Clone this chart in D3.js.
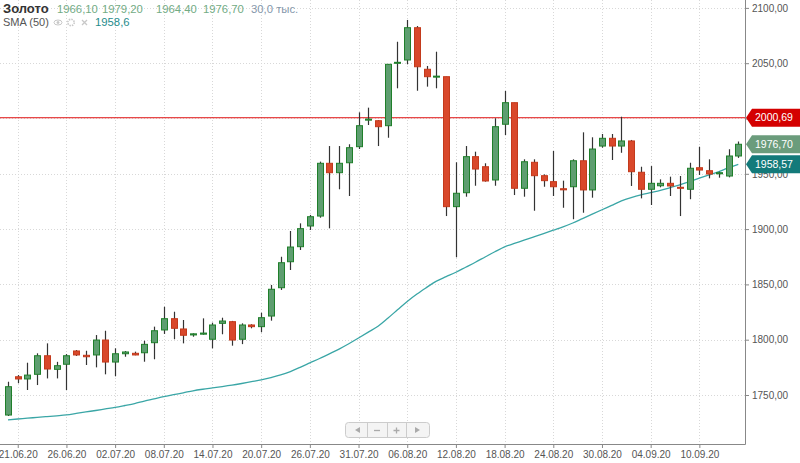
<!DOCTYPE html>
<html>
<head>
<meta charset="utf-8">
<script src="https://cdn.jsdelivr.net/npm/d3@7"></script>
<style>
  body { margin: 0; background: #fff; font-family: "Liberation Sans", Arial, sans-serif; }
  svg { display: block; }
  .axis path { display: none; }
  .axis line { stroke: #888; }
  .axis text { fill: #555; font-size: 10px; font-family: "Liberation Sans", Arial, sans-serif; }
</style>
</head>
<body>
<svg width="800" height="463"></svg>
<script>
(function() {

  // daily bars, 19.06.20 .. 15.09.20 (sunday bars included)
  var openVals = [1731.9, 1766.5, 1764.5, 1768.7, 1785.5, 1773.2, 1777.8, 1789.8, 1785.9, 1786.2,
    1799.7, 1779.8, 1787.3, 1787.7, 1788.2, 1797.3, 1808.8, 1819, 1809.7, 1804.3,
    1805, 1800.4, 1814.8, 1816.3, 1800.4, 1813.3, 1811.8, 1821.4, 1847, 1870.5,
    1884.1, 1902.8, 1911.8, 1959.5, 1951, 1960, 1974.5, 1998.5, 1998, 1993.5,
    2049.9, 2052.9, 2082.1, 2044.5, 2037.5, 2037.8, 1920.3, 1932.9, 1965.5, 1956.4,
    1944.4, 1994.8, 2014.3, 1936.9, 1960.4, 1948.3, 1942.9, 1936.5, 1938.3, 1961.8,
    1935.4, 1975.1, 1982.1, 1975.1, 1979.7, 1951.4, 1936, 1939.2, 1941.4, 1937.8,
    1936, 1955.5, 1952.8, 1950, 1948, 1966.1];
  var highVals = [1762, 1768, 1779.2, 1787.7, 1796.7, 1780, 1787, 1790.7, 1790, 1804.2,
    1808.1, 1792.2, 1789.8, 1789.2, 1799.1, 1811.8, 1829.8, 1825.3, 1817.8, 1805.8,
    1819.3, 1815.4, 1819.9, 1817, 1814.8, 1814, 1824.4, 1849.5, 1875, 1898.3,
    1905.2, 1912.8, 1961, 1975.1, 1975.1, 1976.7, 2005.6, 2009.8, 1998.6, 2049.3,
    2069.4, 2089.1, 2083.6, 2047.5, 2060.4, 2037.8, 1960.4, 1975.1, 1970, 1959.5,
    2000.2, 2024.9, 2014.3, 1963.1, 1963.1, 1949.5, 1970.6, 1943.8, 1963.1, 1987.5,
    1983, 1986, 1986, 2001.6, 1980.6, 1956.4, 1957, 1945, 1947.4, 1948,
    1960, 1974.5, 1963.1, 1951.9, 1972.2, 1979.2];
  var lowVals = [1731, 1760.6, 1754.5, 1759, 1765, 1765, 1754.5, 1785.3, 1777.1, 1775,
    1768.7, 1766.9, 1784.6, 1785.9, 1780.1, 1782.3, 1805.2, 1800.4, 1796.7, 1802.7,
    1804.5, 1792.2, 1804.9, 1794.6, 1796, 1810.3, 1806.7, 1817.2, 1845, 1863,
    1881.1, 1899.2, 1910.3, 1900.7, 1936, 1929.9, 1972.4, 1994.1, 1975.1, 1982.6,
    2027.3, 2049, 2025.1, 2028.8, 2027.3, 1911.8, 1874.5, 1929.3, 1939.2, 1942.9,
    1939.2, 1985.1, 1930.8, 1929.3, 1916.6, 1938.3, 1929.9, 1919.3, 1908.9, 1914.8,
    1928.4, 1973.6, 1962.5, 1969, 1939, 1927.8, 1921.8, 1937.8, 1929.9, 1911.8,
    1927, 1948.9, 1945.9, 1946.5, 1946.8, 1964.4];
  var closeVals = [1757.5, 1764.5, 1768, 1785.5, 1773.5, 1776.5, 1785.5, 1786.2, 1784.6, 1799.7,
    1779.8, 1787.3, 1788.9, 1786.2, 1795.8, 1808.1, 1819, 1810.3, 1804, 1805.3,
    1806, 1813.3, 1816.9, 1799.7, 1813.3, 1811.8, 1819.9, 1845.6, 1869.6, 1883.8,
    1900.4, 1911.2, 1959.5, 1951, 1959.5, 1973.6, 1993.5, 1999.5, 1992.6, 2049,
    2050.8, 2082.1, 2046.8, 2037.8, 2038.3, 1920.3, 1932.4, 1965.5, 1954.3, 1943.5,
    1992.6, 2014.3, 1936.9, 1960.9, 1948.3, 1943.8, 1938.3, 1935.5, 1961.8, 1935.4,
    1972.4, 1982.1, 1975.1, 1979.7, 1951.9, 1936, 1941.4, 1941.4, 1939, 1936.9,
    1955, 1953.4, 1949.8, 1951, 1966.1, 1976.7];
  var smaVals = [1727.5, 1728.3, 1729, 1729.8, 1730.5, 1731.2, 1732, 1733.3, 1734.7, 1736,
    1737.4, 1738.8, 1740.5, 1742.3, 1744.5, 1746.5, 1748.5, 1750.3, 1752, 1753.8,
    1755.2, 1756.4, 1757.6, 1758.9, 1760.4, 1762, 1763.6, 1765.7, 1768.1, 1771.2,
    1775, 1779, 1783, 1787.2, 1791.5, 1796.3, 1801.5, 1806.8, 1812.2, 1819.4,
    1827, 1834.6, 1841.3, 1847.3, 1853, 1857, 1861, 1865.5, 1870, 1874.8,
    1879.5, 1884, 1887, 1890, 1893, 1896, 1899, 1902, 1905.5, 1909.5,
    1913.5, 1917.5, 1921.5, 1925.5, 1928.5, 1931, 1933, 1935, 1937.5, 1940,
    1943, 1946, 1949, 1952, 1955.5, 1958.6];

  var dateTickIdx = [1, 6, 11, 16, 21, 26, 31, 36, 41, 46, 51, 56, 61, 66, 71];
  var dateLabels = ["21.06.20", "26.06.20", "02.07.20", "08.07.20", "14.07.20", "20.07.20", "26.07.20",
    "31.07.20", "06.08.20", "12.08.20", "18.08.20", "24.08.20", "30.08.20", "04.09.20", "10.09.20"];
  var priceTicks = [1750, 1800, 1850, 1900, 1950, 2000, 2050, 2100];

  var levelLine = 2000.69;
  var lastClose = 1976.70;
  var lastSma = 1958.57;

  var svg = d3.select('svg');
  var right = 745, bottom = 444;

  var x = d3.scaleLinear().domain([0, 75]).range([8, 738.3]);
  var y = d3.scaleLinear().domain([1750, 2100]).range([395, 7.9]);

  var fmt = function(v) { return d3.format('.2f')(v).replace('.', ','); };

  // grid
  svg.append('g').selectAll('line').data(priceTicks).enter().append('line')
    .attr('x1', 0).attr('x2', right)
    .attr('y1', function(d) { return Math.round(y(d)) + 0.5; })
    .attr('y2', function(d) { return Math.round(y(d)) + 0.5; })
    .attr('stroke', '#d8d8d8').attr('stroke-dasharray', '1,2');
  svg.append('g').selectAll('line').data(dateTickIdx).enter().append('line')
    .attr('x1', function(d) { return Math.round(x(d)) + 0.5; })
    .attr('x2', function(d) { return Math.round(x(d)) + 0.5; })
    .attr('y1', 0).attr('y2', bottom)
    .attr('stroke', '#d8d8d8').attr('stroke-dasharray', '1,2');

  // axes (the 2000 label sits under the level tag, so it is left out)
  var yAxis = d3.axisRight(y).tickValues(priceTicks).tickSize(4).tickPadding(3)
    .tickFormat(function(d) { return d === 2000 ? '' : fmt(d); });
  svg.append('g').attr('class', 'axis').attr('transform', 'translate(' + right + ',0)').call(yAxis);

  var xAxis = d3.axisBottom(x).tickValues(dateTickIdx).tickSize(4).tickPadding(3)
    .tickFormat(function(d, i) { return dateLabels[i]; });
  svg.append('g').attr('class', 'axis').attr('transform', 'translate(0,' + bottom + ')').call(xAxis);

  svg.append('line').attr('x1', right + 0.5).attr('x2', right + 0.5).attr('y1', 0).attr('y2', bottom + 0.5)
    .attr('stroke', '#888');
  svg.append('line').attr('x1', 0).attr('x2', right + 0.5).attr('y1', bottom + 0.5).attr('y2', bottom + 0.5)
    .attr('stroke', '#888');

  // level line
  svg.append('line').attr('x1', 0).attr('x2', right)
    .attr('y1', y(levelLine)).attr('y2', y(levelLine))
    .attr('stroke', '#e01010').attr('stroke-width', 1);

  // sma line
  var smaLine = d3.line()
    .x(function(d, i) { return x(i); })
    .y(function(d) { return y(d); })
    .curve(d3.curveMonotoneX);
  svg.append('path').datum(smaVals)
    .attr('d', smaLine)
    .attr('fill', 'none')
    .attr('stroke', '#3aa6a6')
    .attr('stroke-width', 1.3);

  // candles
  var candles = closeVals.map(function(c, i) {
    return {i: i, o: openVals[i], h: highVals[i], l: lowVals[i], c: c};
  });

  var g = svg.append('g').selectAll('g').data(candles).enter().append('g');

  g.append('line')
    .attr('x1', function(d) { return Math.round(x(d.i)) + 0.5; })
    .attr('x2', function(d) { return Math.round(x(d.i)) + 0.5; })
    .attr('y1', function(d) { return y(d.h); })
    .attr('y2', function(d) { return y(d.l); })
    .attr('stroke', '#333')
    .attr('stroke-width', 1.2);

  g.append('rect')
    .attr('x', function(d) { return Math.round(x(d.i)) - 2.5; })
    .attr('width', 6)
    .attr('y', function(d) { return y(Math.max(d.o, d.c)); })
    .attr('height', function(d) { return Math.max(1, Math.abs(y(d.o) - y(d.c))); })
    .attr('fill', function(d) { return d.c >= d.o ? '#5e9e70' : '#d9482b'; })
    .attr('stroke', function(d) { return d.c >= d.o ? '#1f7f2a' : '#c33a1c'; })
    .attr('stroke-width', 1);

  // price tags on the right
  var tags = [
    {v: levelLine, fill: '#d40000'},
    {v: lastClose, fill: '#6b9c7c'},
    {v: lastSma, fill: '#137a7a'}
  ];
  var tg = svg.append('g').selectAll('g').data(tags).enter().append('g')
    .attr('transform', function(d) { return 'translate(' + (right + 1) + ',' + y(d.v) + ')'; });
  tg.append('path')
    .attr('d', 'M0,0 L6,-9 L54,-9 L54,9 L6,9 Z')
    .attr('fill', function(d) { return d.fill; });
  tg.append('text')
    .attr('x', 9).attr('dy', '0.35em')
    .attr('fill', '#fff')
    .style('font-size', '10.5px')
    .text(function(d) { return fmt(d.v); });

  // header
  var head = svg.append('g').style('font-size', '11.3px');
  head.append('text').attr('x', 3).attr('y', 13).attr('fill', '#333')
    .style('font-weight', 'bold').style('font-size', '13px').text('Золото');
  var ohlcText = ['1966,10', '1979,20', '1964,40', '1976,70'];
  var ohlcX = [57, 102, 156, 203];
  ohlcText.forEach(function(t, i) {
    head.append('text').attr('x', ohlcX[i]).attr('y', 13).attr('fill', '#72ab84').text(t);
  });
  head.append('text').attr('x', 251).attr('y', 13).attr('fill', '#8497ab').text('30,0 тыс.');

  head.append('text').attr('x', 3).attr('y', 26).attr('fill', '#555')
    .style('font-size', '11px').text('SMA (50)');
  // eye, gear, cross icons
  var ic = head.append('g').attr('fill', 'none').attr('stroke', '#c8c8c8');
  ic.append('ellipse').attr('cx', 58).attr('cy', 22.5).attr('rx', 4).attr('ry', 2.5);
  ic.append('circle').attr('cx', 58).attr('cy', 22.5).attr('r', 1).attr('fill', '#c8c8c8');
  ic.append('circle').attr('cx', 71).attr('cy', 22.5).attr('r', 3.2).attr('stroke-width', 1.6)
    .attr('stroke-dasharray', '1.5,1');
  ic.append('path').attr('d', 'M82,20 L87,25 M87,20 L82,25').attr('stroke-width', 1.3);
  head.append('text').attr('x', 95).attr('y', 26).attr('fill', '#1f8c8c').text('1958,6');

  // navigation buttons
  var nav = svg.append('g').attr('transform', 'translate(345,422)');
  nav.append('rect').attr('x', 0.5).attr('y', 0.5).attr('width', 84).attr('height', 15).attr('rx', 3)
    .attr('fill', '#f4f4f4').attr('stroke', '#ccc');
  [22, 42, 61].forEach(function(sx) {
    nav.append('line').attr('x1', sx + 0.5).attr('x2', sx + 0.5).attr('y1', 1).attr('y2', 15).attr('stroke', '#ccc');
  });
  nav.append('path').attr('d', 'M10,8 L15,5 L15,11 Z').attr('fill', '#aaa');
  nav.append('path').attr('d', 'M29,8.5 L35,8.5').attr('stroke', '#aaa').attr('stroke-width', 1.3);
  nav.append('path').attr('d', 'M48.5,8.5 L54.5,8.5 M51.5,5.5 L51.5,11.5').attr('stroke', '#aaa').attr('stroke-width', 1.3);
  nav.append('path').attr('d', 'M70,5 L75,8 L70,11 Z').attr('fill', '#aaa');

})();
</script>
</body>
</html>
